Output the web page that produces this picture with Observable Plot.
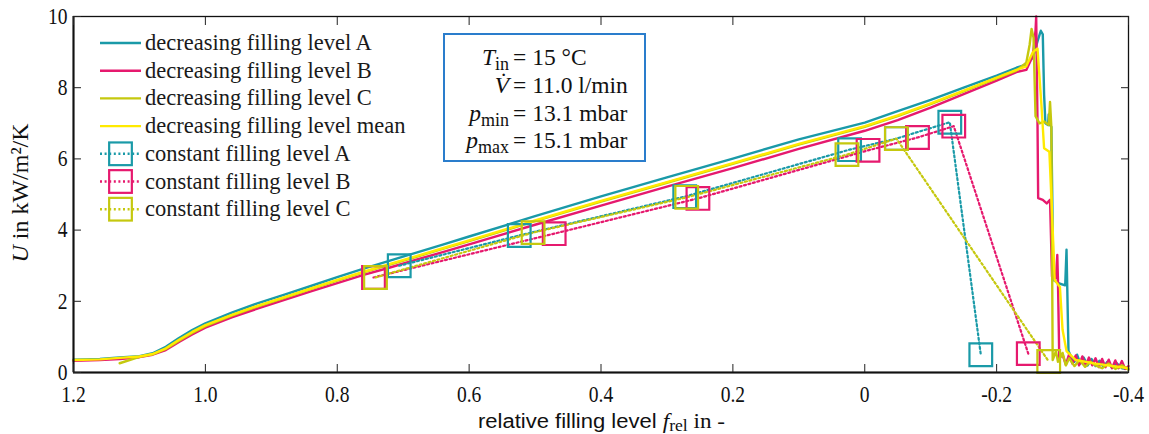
<!DOCTYPE html>
<html><head><meta charset="utf-8">
<script src="https://cdn.jsdelivr.net/npm/d3@7"></script>
<script src="https://cdn.jsdelivr.net/npm/@observablehq/plot@0.6"></script>
<style>
html,body{margin:0;padding:0;background:#fff;}
#wrap{position:relative;width:1149px;height:434px;overflow:hidden;}
#overlay{position:absolute;left:0;top:0;pointer-events:none;}
</style></head><body>
<div id="wrap"></div>
<script>
// ---------- data ----------
const xTicks = [1.2, 1.0, 0.8, 0.6, 0.4, 0.2, 0, -0.2, -0.4];
const xTickLabels = ["1.2", "1.0", "0.8", "0.6", "0.4", "0.2", "0", "-0.2", "-0.4"];
const yTicks = [0, 2, 4, 6, 8, 10];
const yTickLabels = ["0", "2", "4", "6", "8", "10"];

// decreasing filling level: shared grid of relative filling level
const fSmooth = [1.20,1.16,1.13,1.10,1.08,1.06,1.04,1.02,1.00,0.96,0.92,0.88,0.84,0.80,0.76,0.72,0.68,0.64,0.60,0.50,0.40,0.30,0.20,0.10,0.00,-0.05,-0.10,-0.15,-0.20,-0.23];
const uA = [0.36,0.38,0.42,0.46,0.54,0.72,0.97,1.19,1.38,1.68,1.95,2.19,2.43,2.68,2.92,3.14,3.37,3.59,3.82,4.39,4.95,5.48,6.01,6.55,7.02,7.34,7.66,8.00,8.34,8.56];
const uB = [0.33,0.35,0.38,0.43,0.50,0.63,0.86,1.07,1.26,1.55,1.80,2.04,2.28,2.51,2.74,2.95,3.17,3.38,3.60,4.15,4.69,5.22,5.74,6.28,6.79,7.09,7.44,7.82,8.20,8.44];
const uC = [null,null,0.26,0.44,0.51,0.66,0.89,1.11,1.30,1.60,1.86,2.10,2.34,2.58,2.81,3.03,3.25,3.47,3.69,4.25,4.80,5.33,5.86,6.40,6.90,7.20,7.54,7.90,8.26,8.48];
const uMean = [0.35,0.37,0.41,0.45,0.52,0.68,0.92,1.14,1.33,1.62,1.88,2.12,2.36,2.60,2.83,3.05,3.27,3.49,3.71,4.27,4.82,5.35,5.88,6.42,6.92,7.22,7.56,7.92,8.28,8.50];

// tails (spike and drop-off near f = -0.25 ... -0.4), including the visible noise
const tailAf = [-0.245,-0.255,-0.262,-0.267,-0.270,-0.272,-0.274,-0.278,-0.279,-0.281,-0.283,-0.286,-0.295,-0.304,-0.306,-0.307,-0.309,-0.313,-0.318,-0.322,-0.327,-0.332,-0.338,-0.344,-0.35,-0.356,-0.362,-0.368,-0.375,-0.382,-0.39,-0.40];
const tailAu = [8.65,8.85,9.3,9.6,9.5,7.8,7.0,6.95,7.25,6.95,6.9,2.6,2.5,2.45,3.45,2.5,0.6,0.45,0.3,0.5,0.25,0.42,0.2,0.38,0.18,0.33,0.16,0.3,0.14,0.26,0.12,0.1];
const tailBf = [-0.245,-0.255,-0.259,-0.260,-0.262,-0.263,-0.270,-0.276,-0.281,-0.284,-0.290,-0.292,-0.293,-0.295,-0.30,-0.305,-0.31,-0.315,-0.32,-0.325,-0.33,-0.335,-0.34,-0.345,-0.35,-0.355,-0.36,-0.365,-0.37,-0.375,-0.38,-0.385,-0.39,-0.395,-0.40];
const tailBu = [8.5,8.9,9.6,10.0,7.0,4.9,4.85,4.75,4.85,2.7,2.65,3.3,2.6,0.4,0.5,0.22,0.52,0.25,0.48,0.2,0.45,0.18,0.42,0.2,0.4,0.15,0.38,0.15,0.36,0.12,0.34,0.12,0.32,0.1,0.18];
const tailCf = [-0.245,-0.250,-0.253,-0.256,-0.259,-0.265,-0.272,-0.279,-0.281,-0.283,-0.285,-0.29,-0.293,-0.30,-0.305,-0.31,-0.318,-0.326,-0.334,-0.342,-0.35,-0.36,-0.37,-0.38,-0.39,-0.40];
const tailCu = [8.7,9.2,9.65,9.4,7.2,7.0,7.05,6.95,7.6,6.9,0.35,0.6,0.3,0.55,0.2,0.4,0.18,0.35,0.16,0.3,0.2,0.12,0.25,0.1,0.2,0.08];
const tailMf = [-0.245,-0.255,-0.262,-0.268,-0.272,-0.280,-0.284,-0.288,-0.296,-0.300,-0.306,-0.32,-0.35,-0.40];
const tailMu = [8.6,9.0,9.1,7.5,6.3,6.2,4.5,2.6,2.4,1.2,0.6,0.35,0.25,0.12];

// constant filling level measurements
const conAf = [0.706,0.524,0.273,0.023,-0.048,-0.129,-0.176];
const conAu = [3.0,3.85,4.94,6.26,6.57,7.03,0.5];
const conBf = [0.745,0.471,0.253,-0.005,-0.080,-0.135,-0.248];
const conBu = [2.67,3.9,4.89,6.24,6.6,6.92,0.53];
const conCf = [0.742,0.503,0.270,0.027,-0.048,-0.279];
const conCu = [2.67,3.93,4.92,6.12,6.57,0.31];

const seriesNames = ["decreasing filling level A","decreasing filling level B","decreasing filling level C","decreasing filling level mean","constant filling level A","constant filling level B","constant filling level C"];
const annotationLines = [
  {lhs: [["T","i"],["in","sub"]], rhs: "= 15 °C"},
  {lhs: [["V\u0307","i"]], rhs: "= 11.0 l/min"},
  {lhs: [["p","i"],["min","sub"]], rhs: "= 13.1 mbar"},
  {lhs: [["p","i"],["max","sub"]], rhs: "= 15.1 mbar"}
];

// ---------- styling ----------
const colA = "#1a9aa8", colB = "#e6196e", colC = "#c5c80e", colM = "#ffea00";
const serif = "'Liberation Serif','Times New Roman',serif";

const rows = (fs, us) => fs.map((f, i) => ({f, u: us[i]}));
const decA = rows(fSmooth.concat(tailAf), uA.concat(tailAu));
const decB = rows(fSmooth.concat(tailBf), uB.concat(tailBu));
const decC = rows(fSmooth.concat(tailCf), uC.concat(tailCu));
const decM = rows(fSmooth.concat(tailMf), uMean.concat(tailMu));
const conA = rows(conAf, conAu), conB = rows(conBf, conBu), conC = rows(conCf, conCu);

const fmtX = d => xTickLabels[xTicks.indexOf(d)];
const fmtY = d => yTickLabels[yTicks.indexOf(d)];
const none = () => "";
const R = 12.8;
const SW = 2.4;

const chart = Plot.plot({
  width: 1149, height: 434,
  marginLeft: 73, marginRight: 21, marginTop: 16, marginBottom: 62,
  style: {background: "#fff", fontFamily: serif, fontSize: "23px", color: "#111"},
  x: {domain: [1.2, -0.4]},
  y: {domain: [0, 10]},
  marks: [
    Plot.line(decA, {x: "f", y: "u", stroke: colA, strokeWidth: SW}),
    Plot.line(decB, {x: "f", y: "u", stroke: colB, strokeWidth: SW}),
    Plot.line(decC, {x: "f", y: "u", stroke: colC, strokeWidth: SW}),
    Plot.line(decM, {x: "f", y: "u", stroke: colM, strokeWidth: SW}),
    Plot.line(conA, {x: "f", y: "u", stroke: colA, strokeWidth: 2.2, strokeDasharray: "2,2.6"}),
    Plot.line(conB, {x: "f", y: "u", stroke: colB, strokeWidth: 2.2, strokeDasharray: "2,2.6"}),
    Plot.line(conC, {x: "f", y: "u", stroke: colC, strokeWidth: 2.2, strokeDasharray: "2,2.6"}),
    Plot.dot(conA, {x: "f", y: "u", symbol: "square", r: R, stroke: colA, strokeWidth: 2.2, fill: "none"}),
    Plot.dot(conB, {x: "f", y: "u", symbol: "square", r: R, stroke: colB, strokeWidth: 2.2, fill: "none"}),
    Plot.dot(conC, {x: "f", y: "u", symbol: "square", r: R, stroke: colC, strokeWidth: 2.2, fill: "none"}),
    Plot.frame({stroke: "#111", strokeWidth: 1.3}),
    Plot.ruleY([0], {stroke: "#111", strokeWidth: 2}),
    Plot.ruleX([1.2], {stroke: "#111", strokeWidth: 2}),
    Plot.axisX({anchor: "bottom", ticks: xTicks, tickSize: 0, tickPadding: 13, tickFormat: fmtX, label: null, fill: "#111"}),
    Plot.axisX({anchor: "bottom", ticks: xTicks, tickSize: -8, tickFormat: none, label: null, stroke: "#222"}),
    Plot.axisX({anchor: "top", ticks: xTicks, tickSize: -8, tickFormat: none, label: null, stroke: "#222"}),
    Plot.axisY({anchor: "left", ticks: yTicks, tickSize: 0, tickPadding: 6, tickFormat: fmtY, label: null, fill: "#111"}),
    Plot.axisY({anchor: "left", ticks: yTicks, tickSize: -8, tickFormat: none, label: null, stroke: "#222"}),
    Plot.axisY({anchor: "right", ticks: yTicks, tickSize: -8, tickFormat: none, label: null, stroke: "#222"})
  ]
});
const wrap = document.getElementById("wrap");
wrap.appendChild(chart);

// condensed tick labels (the reference uses a narrow serif)
d3.select(chart).selectAll('g[aria-label="x-axis tick label"] text, g[aria-label="y-axis tick label"] text')
  .each(function () {
    const t = this.getAttribute("transform") || "";
    this.setAttribute("transform", t + " scale(0.85,1)");
  });

// ---------- overlay: legend, annotation, axis titles ----------
const ov = d3.select(wrap).append("svg").attr("id", "overlay")
  .attr("width", 1149).attr("height", 434).attr("font-family", serif);

// legend
const legendKinds = [
  {c: colA, dash: false}, {c: colB, dash: false}, {c: colC, dash: false}, {c: colM, dash: false},
  {c: colA, dash: true}, {c: colB, dash: true}, {c: colC, dash: true}
];
const lg = ov.append("g");
seriesNames.forEach((name, i) => {
  const cy = 43 + i * 27.7;
  const k = legendKinds[i];
  lg.append("line").attr("x1", 100).attr("x2", 141).attr("y1", cy).attr("y2", cy)
    .attr("stroke", k.c).attr("stroke-width", 2.4)
    .attr("stroke-dasharray", k.dash ? "2,2.6" : null);
  if (k.dash) {
    const s = R * Math.sqrt(Math.PI);
    lg.append("rect").attr("x", 120.5 - s / 2).attr("y", cy - s / 2).attr("width", s).attr("height", s)
      .attr("fill", "none").attr("stroke", k.c).attr("stroke-width", 2.2);
  }
  lg.append("text").attr("x", 145).attr("y", cy + 7).attr("font-size", 22.5).attr("fill", "#1a1a1a").text(name);
});

// annotation box
const ab = ov.append("g");
ab.append("rect").attr("x", 444).attr("y", 34).attr("width", 201).attr("height", 127)
  .attr("fill", "#fff").attr("stroke", "#2a7dcc").attr("stroke-width", 2);
annotationLines.forEach((ln, i) => {
  const by = 65 + i * 27.8;
  const t = ab.append("text").attr("x", 509).attr("y", by).attr("text-anchor", "end").attr("font-size", 23.5).attr("fill", "#111");
  ln.lhs.forEach(([s, kind]) => {
    const ts = t.append("tspan").text(s);
    if (kind === "i") ts.attr("font-style", "italic");
    if (kind === "sub") ts.attr("font-size", 18).attr("dy", 5);
  });
  ab.append("text").attr("x", 513).attr("y", by).attr("font-size", 23.5).attr("fill", "#111").text(ln.rhs);
});

// y-axis title
const yt = ov.append("text").attr("transform", "translate(28,193) rotate(-90)").attr("text-anchor", "middle")
  .attr("font-size", 24).attr("fill", "#111");
yt.append("tspan").attr("font-style", "italic").text("U");
yt.append("tspan").text(" in kW/m²/K");

// x-axis title
const xt = ov.append("text").attr("x", 478).attr("y", 428).attr("textLength", 247).attr("lengthAdjust", "spacingAndGlyphs")
  .attr("font-size", 20).attr("fill", "#111");
xt.append("tspan").attr("font-family", "'Liberation Sans Narrow','Liberation Sans',Arial,sans-serif").text("relative filling level ");
xt.append("tspan").attr("font-style", "italic").attr("font-size", 21).text("f");
xt.append("tspan").attr("font-size", 16).attr("dy", 3).text("rel");
xt.append("tspan").attr("dy", -3).attr("font-size", 21).text(" in -");
</script></body></html>
